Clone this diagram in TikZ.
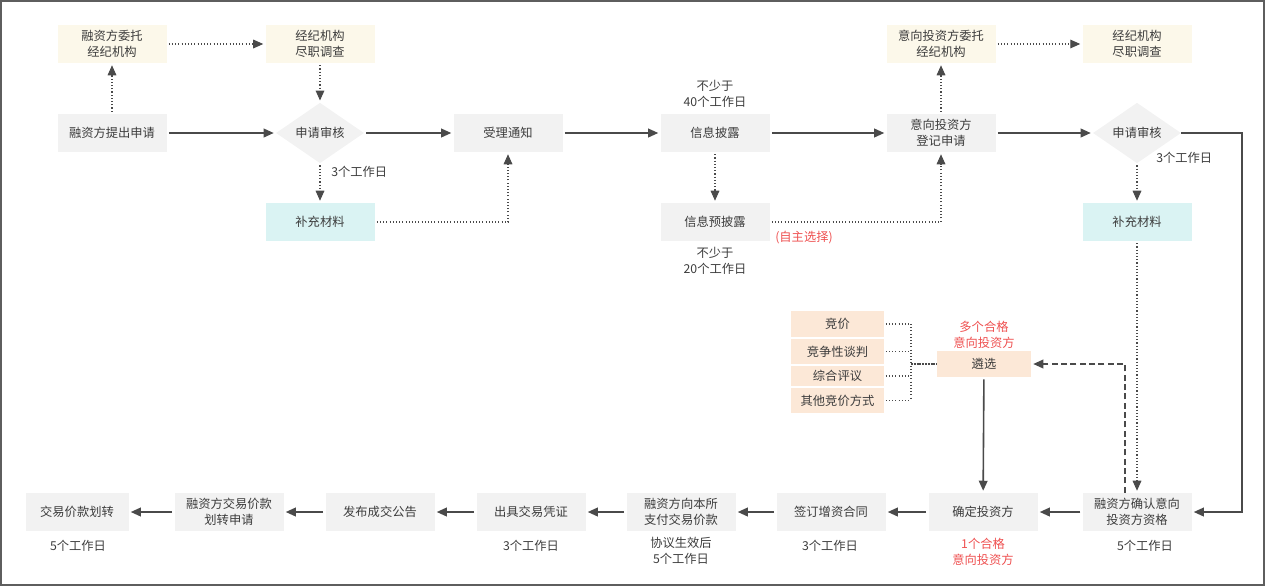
\documentclass[tikz,border=0pt]{standalone}
\usepackage{fontspec}
\setmainfont{Noto Sans CJK SC}
\usetikzlibrary{shapes.geometric,arrows.meta}

\definecolor{boxgray}{HTML}{F2F2F2}
\definecolor{cream}{HTML}{FCF8EA}
\definecolor{lightcyan}{HTML}{DAF3F3}
\definecolor{peach}{HTML}{FCE8D7}
\definecolor{inkgray}{HTML}{3C3C3C}
\definecolor{linegray}{HTML}{4A4A4A}
\definecolor{framegray}{HTML}{5E5E5E}
\definecolor{notered}{HTML}{EE5050}

\tikzset{
  proc/.style={fill=boxgray, minimum width=81.75pt, minimum height=28.5pt,
    inner sep=0pt, align=center, text=inkgray, font=\fontsize{9.2}{12}\selectfont},
  broker/.style={proc, fill=cream},
  supp/.style={proc, fill=lightcyan},
  way/.style={proc, fill=peach, minimum width=69.75pt},
  check/.style={diamond, fill=boxgray, minimum width=66pt, minimum height=42pt,
    inner sep=0pt, text=inkgray, font=\fontsize{9.2}{12}\selectfont},
  note/.style={inner sep=0pt, align=center, text=inkgray, font=\fontsize{9.2}{12}\selectfont},
  rednote/.style={note, text=notered},
  flow/.style={-{Triangle[length=7.5pt,width=6.5pt]}, line width=1.2pt, draw=linegray,
    shorten >=1.5pt, shorten <=1.5pt},
  opt/.style={flow, line width=0.8pt, dash pattern=on 0.8pt off 1.6pt},
  pick/.style={flow, line width=1.1pt, dash pattern=on 4.5pt off 2.5pt},
  bundle/.style={line width=0.8pt, draw=linegray, dash pattern=on 0.8pt off 1.6pt}
}

\begin{document}
\begin{tikzpicture}[x=0.75pt,y=-0.75pt]
  \useasboundingbox (0,0) rectangle (1266,586);
  \draw[framegray, line width=1.5pt] (1,1) rectangle (1264,584.5);

  % top rows
  \node[broker] (entrustA) at (112,44) {融资方委托\\经纪机构};
  \node[broker] (dueA) at (320,44) {经纪机构\\尽职调查};
  \node[broker] (entrustB) at (941,44) {意向投资方委托\\经纪机构};
  \node[broker] (dueB) at (1137,44) {经纪机构\\尽职调查};

  \node[proc] (applyA) at (112,133) {融资方提出申请};
  \node[check] (reviewA) at (320,133) {申请审核};
  \node[proc] (notice) at (508,133) {受理通知};
  \node[proc] (disclose) at (715,133) {信息披露};
  \node[proc] (registerB) at (941,133) {意向投资方\\登记申请};
  \node[check] (reviewB) at (1137,133) {申请审核};

  \node[supp] (suppA) at (320,222) {补充材料};
  \node[proc] (predisclose) at (715,222) {信息预披露};
  \node[supp] (suppB) at (1137,222) {补充材料};

  \node[note, anchor=west] (daysA) at (331,172) {3个工作日};
  \node[note, anchor=west] (daysB) at (1156,158) {3个工作日};
  \node[note] (min40) at (715,94) {不少于\\40个工作日};
  \node[note] (min20) at (715,261) {不少于\\20个工作日};
  \node[rednote] (optional) at (804,238) {(自主选择)};

  % selection ways
  \node[way, minimum height=19.5pt] (bid) at (837.5,324) {竞价};
  \node[way, minimum height=18.75pt] (negotiate) at (837.5,351.5) {竞争性谈判};
  \node[way, minimum height=15pt] (evaluate) at (837.5,376) {综合评议};
  \node[way, minimum height=18.75pt] (otherway) at (837.5,400.5) {其他竞价方式};
  \node[way, minimum width=70.5pt, minimum height=19.5pt] (select) at (984,364) {遴选};
  \node[rednote] (many) at (984,334.5) {多个合格\\意向投资方};

  % bottom row
  \node[proc, minimum width=77.25pt] (transfer) at (77,512) {交易价款划转};
  \node[proc] (transferapp) at (229,512) {融资方交易价款\\划转申请};
  \node[proc] (announce) at (380,512) {发布成交公告};
  \node[proc] (voucher) at (531,512) {出具交易凭证};
  \node[proc] (pay) at (681,512) {融资方向本所\\支付交易价款};
  \node[proc] (contract) at (831,512) {签订增资合同};
  \node[proc] (decide) at (983,512) {确定投资方};
  \node[proc] (confirm) at (1137,512) {融资方确认意向\\投资方资格};

  \node[note] (days5a) at (78,546) {5个工作日};
  \node[note] (days3a) at (531,546) {3个工作日};
  \node[note] (afterdeal) at (681,551) {协议生效后\\5个工作日};
  \node[note] (days3b) at (830,546) {3个工作日};
  \node[rednote] (one) at (983,551.5) {1个合格\\意向投资方};
  \node[note] (days5b) at (1145,546) {5个工作日};

  \coordinate (rail) at (1242,133);
  \coordinate (bus) at (911,364);
  \coordinate (dashturn) at (1125,364);

  % connectors
  \draw[opt] (applyA) -- (entrustA);
  \draw[opt] (entrustA) -- (dueA);
  \draw[opt] (dueA) -- (reviewA);
  \draw[flow] (applyA) -- (reviewA);
  \draw[flow] (reviewA) -- (notice);
  \draw[opt] (reviewA) -- (suppA);
  \draw[opt] (suppA) -| (notice);
  \draw[flow] (notice) -- (disclose);
  \draw[opt] (disclose) -- (predisclose);
  \draw[flow] (disclose) -- (registerB);
  \draw[opt] (predisclose) -| (registerB);
  \draw[opt] (registerB) -- (entrustB);
  \draw[opt] (entrustB) -- (dueB);
  \draw[flow] (registerB) -- (reviewB);
  \draw[opt] (reviewB) -- (suppB);
  \draw[flow, shorten <=0pt] (reviewB) -- (rail) |- (confirm);
  \draw[opt] (suppB) -- (confirm);
  \draw[pick, shorten <=0pt] (dashturn |- confirm.north) -- (dashturn) -- (select);
  \draw[flow] (select) -- (decide);

  \foreach \w in {bid,negotiate,evaluate,otherway}
    \draw[bundle] (\w.east) ++(1.5,0) -- (bus |- \w);
  \draw[bundle] (bus |- bid) -- (bus |- otherway);
  \draw[bundle, line width=1.1pt, dash pattern=on 1.5pt off 0.6pt] (bus) -- (select);

  \draw[flow] (confirm) -- (decide);
  \draw[flow] (decide) -- (contract);
  \draw[flow] (contract) -- (pay);
  \draw[flow] (pay) -- (voucher);
  \draw[flow] (voucher) -- (announce);
  \draw[flow] (announce) -- (transferapp);
  \draw[flow] (transferapp) -- (transfer);
\end{tikzpicture}
\end{document}
